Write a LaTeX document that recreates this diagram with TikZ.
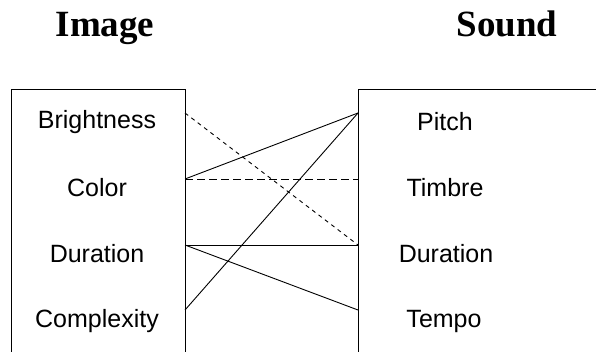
\documentclass[tikz,border=0pt]{standalone}
\usepackage{fontspec}
\setmainfont{Liberation Sans}
\newfontfamily\titlefont{Liberation Serif}
\begin{document}
\begin{tikzpicture}[x=1pt,y=-1pt,
  frame/.style={draw=black,line width=1pt},
  lbl/.style={font=\fontsize{25}{25}\selectfont,anchor=center,inner sep=0pt},
  ttl/.style={font=\titlefont\bfseries\fontsize{37}{37}\selectfont,anchor=base,inner sep=0pt},
  link/.style={draw=black,line width=0.9pt},
  sdash/.style={link,dash pattern=on 4pt off 4pt},
  ldash/.style={link,dash pattern=on 8pt off 4pt}]
\useasboundingbox (0,0) rectangle (596,352);
\clip (0,0) rectangle (596,352);
\fill[white] (0,0) rectangle (596,352);
% titles
\node[ttl] (timg) at (105,37) {Image};
\node[ttl] (tsnd) at (507,37) {Sound};
% boxes
\draw[frame] (11,360) -- (11,90) -- (185,90) -- (185,360);
\draw[frame] (358,360) -- (358,90) -- (610,90);
% labels
\node[lbl] (bright) at (97,122) {Brightness};
\node[lbl] (color) at (97,188) {Color};
\node[lbl] (durl) at (97,254) {Duration};
\node[lbl] (compl) at (97,321) {Complexity};
\node[lbl] (pitch) at (445,122) {Pitch};
\node[lbl] (timbre) at (445,188) {Timbre};
\node[lbl] (durr) at (446,254) {Duration};
\node[lbl] (tempo) at (444,321) {Tempo};
% connector ends on box edges
\coordinate (L1) at (185,113);
\coordinate (L2) at (185,179);
\coordinate (L3) at (185,245);
\coordinate (L4) at (185,310);
\coordinate (R1) at (358,113);
\coordinate (R2) at (358,179);
\coordinate (R3) at (358,245);
\coordinate (R4) at (358,310);
% connectors
\draw[sdash] (L1) -- (R3);
\draw[ldash] (L2) -- (R2);
\draw[link] (L2) -- (R1);
\draw[link] (L4) -- (R1);
\draw[link] (L3) -- (R3);
\draw[link] (L3) -- (R4);
\end{tikzpicture}
\end{document}
